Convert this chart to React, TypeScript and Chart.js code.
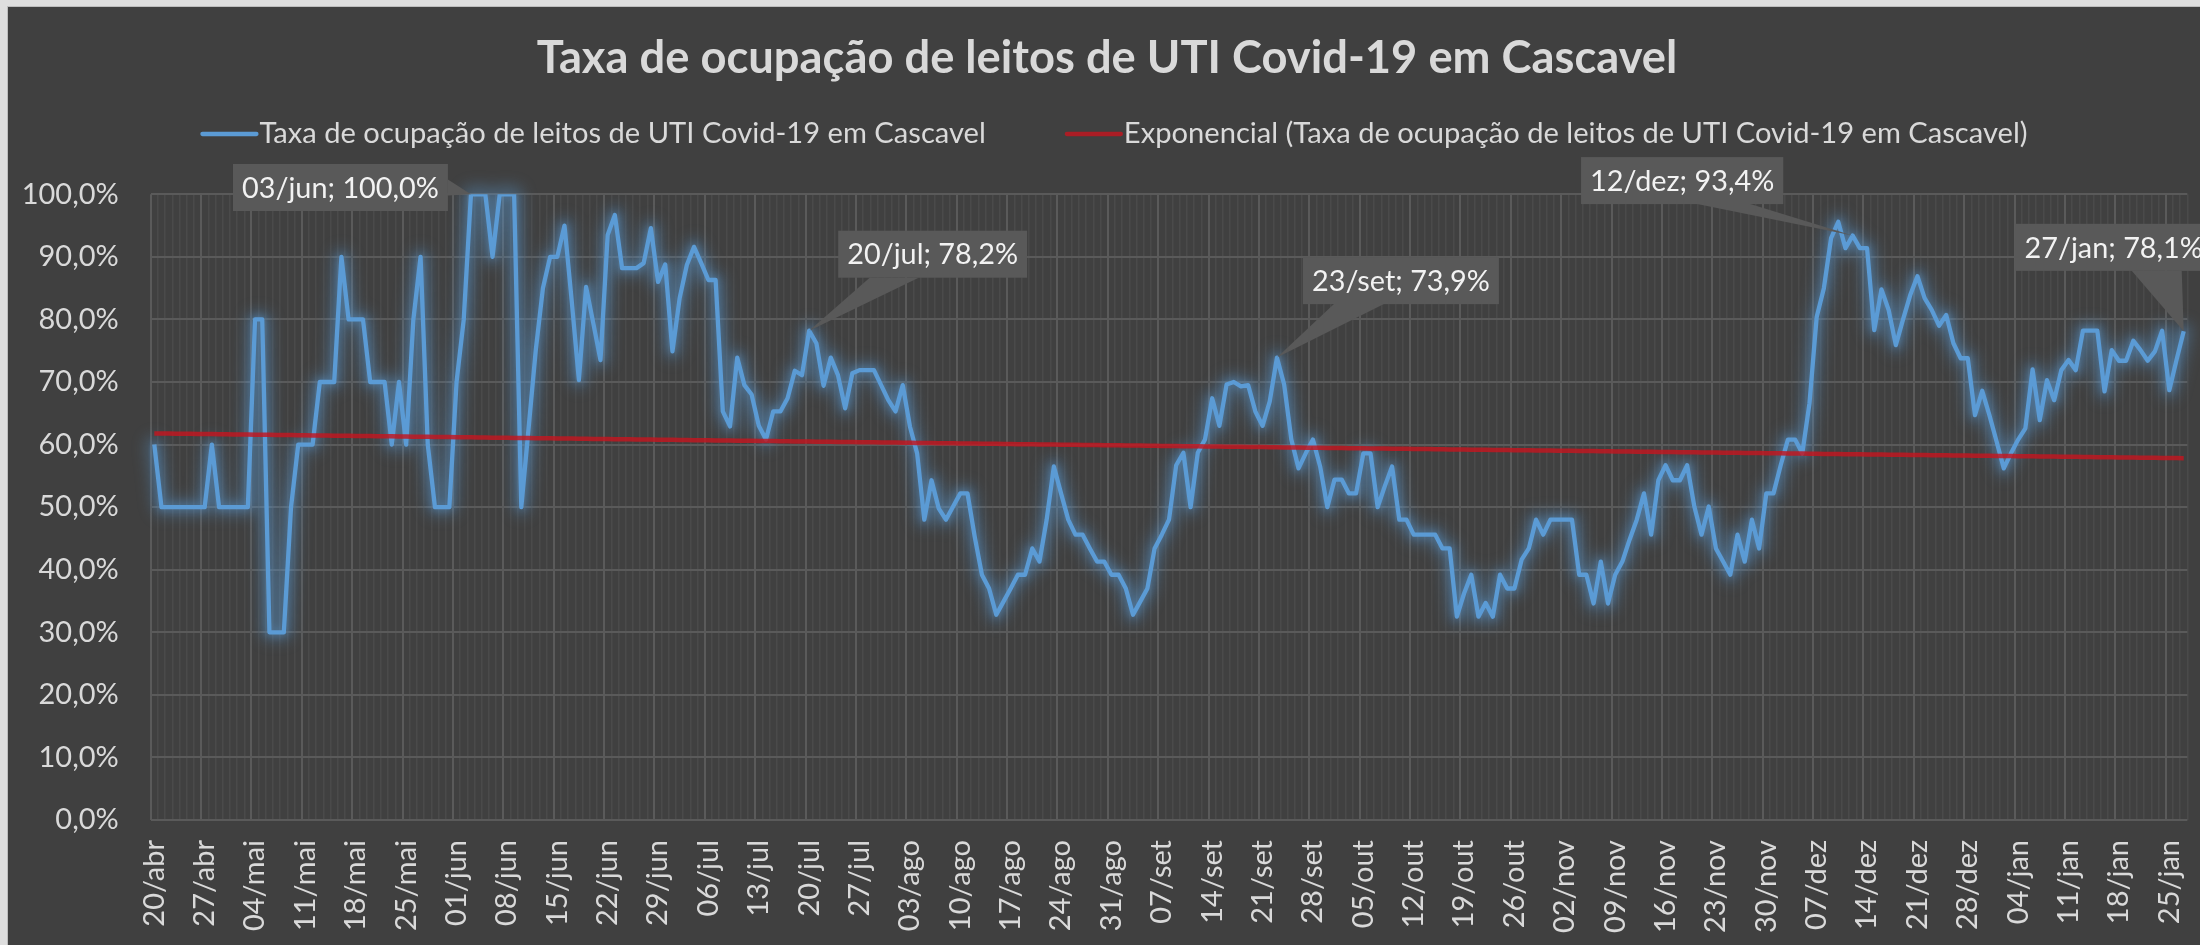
import React, { useEffect, useRef } from 'react';
import { Chart, registerables } from 'chart.js';

Chart.register(...registerables);

// ---------- data ----------
const SERIES_NAME = 'Taxa de ocupação de leitos de UTI Covid-19 em Cascavel';
const TREND_NAME = 'Exponencial (Taxa de ocupação de leitos de UTI Covid-19 em Cascavel)';
const TITLE = 'Taxa de ocupação de leitos de UTI Covid-19 em Cascavel';

// daily occupancy (%), one array per month; first day of each array in MONTH_START
const abr = [60, 50, 50, 50, 50, 50, 50, 50, 60, 50, 50];
const mai = [50, 50, 50, 80, 80, 30, 30, 30, 50, 60, 60, 60, 70, 70, 70, 90, 80, 80, 80, 70, 70, 70, 60, 70, 60, 80, 90, 60, 50, 50, 50];
const jun = [70, 80, 100, 100, 100, 90, 100, 100, 100, 50, 62.5, 75, 85, 90, 90, 95, 83, 70.3, 85.2, 79.4, 73.5, 93.5, 96.7, 88.2, 88.2, 88.2, 89, 94.6, 86, 88.8];
const jul = [74.9, 83.4, 88.7, 91.6, 89, 86.3, 86.3, 65.3, 62.9, 73.9, 69.5, 68, 63, 60.8, 65.3, 65.3, 67.4, 71.8, 71.1, 78.2, 76.2, 69.4, 73.9, 71.1, 65.8, 71.4, 71.9, 71.9, 71.9, 69.5, 67.1];
const ago = [65.3, 69.5, 62.9, 58.6, 48, 54.3, 49.8, 48, 50.1, 52.2, 52.2, 45.3, 39.2, 37, 32.8, 34.9, 37, 39.2, 39.2, 43.4, 41.3, 48, 56.5, 52.2, 48, 45.6, 45.6, 43.4, 41.3, 41.3, 39.2];
const set = [39.2, 37, 32.8, 34.9, 37, 43.4, 45.6, 48, 56.7, 58.7, 50, 58.7, 60.8, 67.4, 63, 69.6, 70, 69.3, 69.5, 65.3, 63, 66.9, 73.9, 69.6, 60.8, 56.2, 58.6, 60.8, 56.5, 50];
const out = [54.4, 54.4, 52.2, 52.2, 58.6, 58.6, 50, 53.4, 56.5, 48, 48, 45.6, 45.6, 45.6, 45.6, 43.4, 43.4, 32.5, 36.2, 39.2, 32.5, 34.7, 32.5, 39.2, 37, 37, 41.6, 43.4, 48, 45.6, 48];
const nov = [48, 48, 48, 39.2, 39.2, 34.6, 41.3, 34.6, 39.2, 41.3, 44.8, 48, 52.2, 45.6, 54.3, 56.7, 54.3, 54.3, 56.7, 50.1, 45.6, 50.1, 43.4, 41.3, 39.2, 45.6, 41.3, 48, 43.4, 52.2];
const dez = [52.2, 56.7, 60.8, 60.8, 58.6, 66.6, 80.4, 85, 93, 95.6, 91.4, 93.4, 91.4, 91.4, 78.3, 84.8, 81.5, 75.9, 80, 83.9, 86.9, 83.4, 81.5, 79, 80.7, 76.2, 73.8, 73.8, 64.7, 68.6, 64.7];
const jan = [60.5, 56.2, 58.6, 60.8, 62.6, 72, 63.9, 70.3, 67.1, 71.9, 73.5, 71.9, 78.2, 78.2, 78.2, 68.5, 75.1, 73.4, 73.4, 76.6, 75.1, 73.4, 74.9, 78.2, 68.7, 73.5, 78.1];

const MONTH_NAMES = ['abr', 'mai', 'jun', 'jul', 'ago', 'set', 'out', 'nov', 'dez', 'jan'];
const MONTH_VALUES = [abr, mai, jun, jul, ago, set, out, nov, dez, jan];
const MONTH_START = [20, 1, 1, 1, 1, 1, 1, 1, 1, 1];

const Y_TICKS = [0, 10, 20, 30, 40, 50, 60, 70, 80, 90, 100];
const LABEL_EVERY = 7;
const CALLOUT_DATES = ['03/jun', '20/jul', '23/set', '12/dez', '27/jan'];

const labels: string[] = [];
const values: number[] = [];
MONTH_VALUES.forEach((arr, m) => {
  arr.forEach((v, k) => {
    labels.push(String(MONTH_START[m] + k).padStart(2, '0') + '/' + MONTH_NAMES[m]);
    values.push(v);
  });
});

// Excel-style exponential trendline: least squares on ln(y)
function expTrend(ys: number[]): number[] {
  const n = ys.length;
  let sx = 0, sy = 0, sxx = 0, sxy = 0;
  ys.forEach((v, i) => {
    const l = Math.log(v);
    sx += i; sy += l; sxx += i * i; sxy += i * l;
  });
  const b = (n * sxy - sx * sy) / (n * sxx - sx * sx);
  const a = (sy - b * sx) / n;
  return ys.map((_, i) => Math.exp(a + b * i));
}
const trend = expTrend(values);

// ---------- style ----------
const FONT = 'Lato, "Open Sans", sans-serif';
const BG = '#404040';
const TEXT = '#d9d9d9';
const BLUE = '#5b9bd5';
const RED = 'rgba(195,22,32,0.82)';
const GRID_MAJOR = '#5a5a5a';
const GRID_MINOR = '#4a4a4a';
const CALLOUT_FILL = '#595959';

const CALLOUT_STYLE: Record<string, { dx: number; dy: number; side: 'right' | 'bottom'; b0: number; b1: number }> = {
  '03/jun': { dx: -130.5, dy: -6.8, side: 'right', b0: -8, b1: 8 },
  '20/jul': { dx: 123.5, dy: -76.5, side: 'bottom', b0: -63, b1: -14 },
  '23/set': { dx: 124, dy: -77, side: 'bottom', b0: -67, b1: -17 },
  '12/dez': { dx: -170.5, dy: -55, side: 'bottom', b0: 15, b1: 68 },
  '27/jan': { dx: -70, dy: -84, side: 'bottom', b0: 18, b1: 68 },
};

function fit(text: string, weight: string, target: number): number {
  const c = document.createElement('canvas').getContext('2d')!;
  c.font = `${weight} 100px ${FONT}`;
  return (100 * target) / c.measureText(text).width;
}

function pct(v: number): string {
  return v.toFixed(1).replace('.', ',') + '%';
}

export default function App() {
  const ref = useRef<HTMLCanvasElement>(null);

  useEffect(() => {
    document.body.style.margin = '0';
    document.body.style.overflow = 'hidden';
    const titleSize = fit(TITLE, 'bold', 1141);
    const legendSize = fit(SERIES_NAME, 'normal', 727);
    const tickSize = fit('20/abr', 'normal', 86.7);
    const calloutSize = fit('03/jun; 100,0%', 'normal', 197);

    const deco = {
      id: 'deco',
      beforeDraw(chart: any) {
        const { ctx, width, height } = chart;
        ctx.save();
        ctx.fillStyle = '#dedede';
        ctx.fillRect(0, 0, width, height);
        ctx.fillStyle = '#bdbdbd';
        ctx.fillRect(7, 6, width - 7, height - 6);
        ctx.fillStyle = BG;
        ctx.fillRect(8, 7, width - 8, height - 7);
        ctx.restore();
      },
      beforeDatasetDraw(chart: any, args: any) {
        if (args.index !== 0) return;
        // soft glow underneath the series line, following the line's own points
        const { ctx } = chart;
        const pts = args.meta.data;
        ctx.save();
        ctx.filter = 'blur(7px)';
        ctx.strokeStyle = 'rgba(91,155,213,0.32)';
        ctx.lineWidth = 18;
        ctx.lineJoin = 'round';
        ctx.lineCap = 'round';
        ctx.beginPath();
        pts.forEach((p: any, i: number) => (i === 0 ? ctx.moveTo(p.x, p.y) : ctx.lineTo(p.x, p.y)));
        ctx.stroke();
        ctx.restore();
        ctx.save();
        ctx.shadowColor = 'rgba(91,155,213,0.6)';
        ctx.shadowBlur = 8;
      },
      afterDatasetDraw(chart: any, args: any) {
        if (args.index === 0) chart.ctx.restore();
      },
      afterDraw(chart: any) {
        const { ctx } = chart;
        ctx.save();
        // title
        ctx.font = `bold ${titleSize}px ${FONT}`;
        ctx.fillStyle = TEXT;
        ctx.textAlign = 'center';
        ctx.textBaseline = 'alphabetic';
        ctx.fillText(TITLE, 1107, 73);

        // legend
        ctx.font = `${legendSize}px ${FONT}`;
        ctx.textAlign = 'left';
        const items = chart.data.datasets.map((d: any) => ({ text: d.label, color: d.borderColor, w: ctx.measureText(d.label).width }));
        const sample = 54, gapText = 3, gapItem = 81;
        const total = items.reduce((s: number, it: any) => s + sample + gapText + it.w, 0) + gapItem * (items.length - 1);
        let x = 1115 - total / 2;
        items.forEach((it: any) => {
          ctx.strokeStyle = it.color;
          ctx.lineWidth = 4.3;
          ctx.lineCap = 'round';
          ctx.beginPath();
          ctx.moveTo(x, 134);
          ctx.lineTo(x + sample, 134);
          ctx.stroke();
          ctx.fillStyle = TEXT;
          ctx.fillText(it.text, x + sample + gapText, 143);
          x += sample + gapText + it.w + gapItem;
        });

        // callouts
        const meta = chart.getDatasetMeta(0);
        ctx.font = `${calloutSize}px ${FONT}`;
        CALLOUT_DATES.forEach((d) => {
          const idx = labels.indexOf(d);
          const st = CALLOUT_STYLE[d];
          const pt = meta.data[idx];
          const px = pt.x, py = pt.y;
          const text = `${labels[idx]}; ${pct(values[idx])}`;
          const w = ctx.measureText(text).width + 18;
          const h = 47;
          const cx = px + st.dx, cy = py + st.dy;
          const l = cx - w / 2, t = cy - h / 2, r = l + w, b = t + h;
          ctx.fillStyle = CALLOUT_FILL;
          ctx.beginPath();
          if (st.side === 'right') {
            ctx.moveTo(r, cy + st.b0);
            ctx.lineTo(px, py);
            ctx.lineTo(r, cy + st.b1);
          } else {
            ctx.moveTo(cx + st.b0, b);
            ctx.lineTo(px, py);
            ctx.lineTo(cx + st.b1, b);
          }
          ctx.closePath();
          ctx.fill();
          ctx.fillRect(l, t, w, h);
          ctx.fillStyle = '#f2f2f2';
          ctx.textAlign = 'center';
          ctx.textBaseline = 'middle';
          ctx.fillText(text, cx, cy + 1);
        });
        ctx.restore();
      },
    };

    const chart = new Chart(ref.current!, {
      type: 'line',
      data: {
        labels,
        datasets: [
          {
            label: SERIES_NAME,
            data: values,
            borderColor: BLUE,
            borderWidth: 4.3,
            pointRadius: 0,
            tension: 0,
            borderJoinStyle: 'round',
            order: 2,
          },
          {
            label: TREND_NAME,
            data: trend,
            borderColor: RED,
            borderWidth: 4.5,
            pointRadius: 0,
            tension: 0,
            order: 1,
          },
        ],
      },
      options: {
        responsive: false,
        animation: false,
        events: [],
        layout: { padding: { top: 194.3, right: 12.7, left: 0, bottom: 0 } },
        plugins: {
          legend: { display: false },
          title: { display: false },
          tooltip: { enabled: false },
        },
        scales: {
          x: {
            type: 'category',
            offset: true,
            border: { display: false },
            grid: {
              offset: true,
              drawTicks: false,
              color: (c: any) => (c.index % LABEL_EVERY === 0 ? GRID_MAJOR : GRID_MINOR),
              lineWidth: (c: any) => (c.index % LABEL_EVERY === 0 ? 2 : 1.5),
            },
            ticks: {
              autoSkip: false,
              maxRotation: 90,
              minRotation: 90,
              padding: 20,
              color: TEXT,
              font: { family: FONT, size: tickSize },
              callback: (_v: any, i: number) => (i % LABEL_EVERY === 0 ? labels[i] : ''),
            },
            afterFit: (s: any) => {
              s.height = 125;
              s.paddingLeft = 0;
              s.paddingRight = 0;
            },
          },
          y: {
            min: 0,
            max: 100,
            border: { display: false },
            grid: { color: GRID_MAJOR, lineWidth: 2, drawTicks: false },
            afterBuildTicks: (s: any) => {
              s.ticks = Y_TICKS.map((v) => ({ value: v }));
            },
            ticks: {
              padding: 32,
              color: TEXT,
              font: { family: FONT, size: tickSize },
              callback: (v: any) => pct(Number(v)),
            },
            afterFit: (s: any) => {
              s.width = 150.7;
            },
          },
        },
      },
      plugins: [deco],
    } as any);

    return () => chart.destroy();
  }, []);

  return (
    <div style={{ position: 'fixed', left: 0, top: 0, width: 2200, height: 945 }}>
      <canvas ref={ref} width={2200} height={945} style={{ display: 'block', width: 2200, height: 945 }} />
    </div>
  );
}
